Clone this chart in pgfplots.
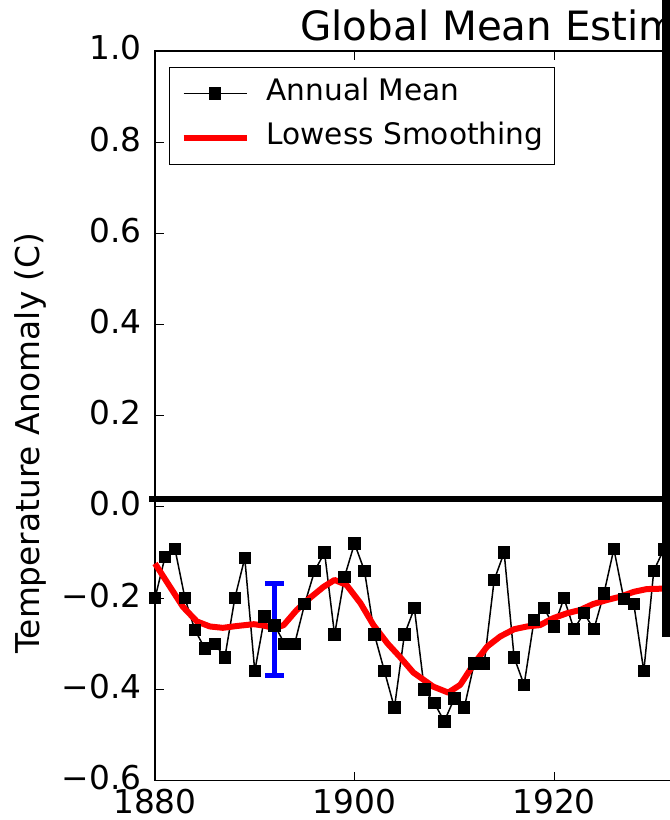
\documentclass[border=0pt]{standalone}
\usepackage{pgfplots}
\pgfplotsset{compat=1.18}
\usepackage{fontspec}
\setmainfont{DejaVu Sans}

\pgfplotstableread{
year val
1880 -0.200
1881 -0.110
1882 -0.092
1883 -0.200
1884 -0.270
1885 -0.310
1886 -0.300
1887 -0.330
1888 -0.200
1889 -0.112
1890 -0.360
1891 -0.240
1892 -0.260
1893 -0.300
1894 -0.300
1895 -0.213
1896 -0.140
1897 -0.100
1898 -0.280
1899 -0.153
1900 -0.080
1901 -0.140
1902 -0.280
1903 -0.360
1904 -0.440
1905 -0.280
1906 -0.222
1907 -0.400
1908 -0.430
1909 -0.470
1910 -0.420
1911 -0.440
1912 -0.343
1913 -0.343
1914 -0.160
1915 -0.100
1916 -0.330
1917 -0.390
1918 -0.248
1919 -0.222
1920 -0.262
1921 -0.200
1922 -0.268
1923 -0.233
1924 -0.268
1925 -0.190
1926 -0.092
1927 -0.202
1928 -0.213
1929 -0.360
1930 -0.140
1931 -0.093
1932 -0.160
}\annual

\pgfplotstableread{
year val
1880.0 -0.124
1881.5 -0.175
1882.8 -0.219
1884.2 -0.251
1885.5 -0.262
1886.8 -0.265
1888.2 -0.261
1889.9 -0.257
1890.9 -0.260
1892.0 -0.266
1892.9 -0.259
1894.2 -0.226
1895.5 -0.200
1896.9 -0.175
1898.0 -0.160
1899.2 -0.171
1900.6 -0.211
1901.9 -0.259
1903.3 -0.299
1904.6 -0.330
1905.9 -0.363
1907.9 -0.394
1909.4 -0.407
1910.6 -0.390
1912.0 -0.343
1913.3 -0.306
1914.6 -0.284
1916.0 -0.268
1917.3 -0.262
1918.6 -0.259
1919.9 -0.244
1921.3 -0.233
1922.6 -0.226
1923.9 -0.213
1925.3 -0.204
1926.6 -0.197
1928.0 -0.186
1929.3 -0.180
1931.0 -0.179
1933.0 -0.175
}\lowess

\begin{document}
\begin{tikzpicture}
\begin{axis}[
  scale only axis, width=299.25pt, height=364.8pt,
  xmin=1880, xmax=1940, ymin=-0.6, ymax=1.0,
  xtick={1880,1900,1920,1940},
  xticklabels={1880,1900,1920,{}},
  ytick={-0.6,-0.4,-0.2,0,0.2,0.4,0.6,0.8,1.0},
  yticklabels={−0.6,−0.4,−0.2,0.0,0.2,0.4,0.6,0.8,1.0},
  tick align=inside, major tick length=4.5pt,
  tick style={black, line width=0.5pt},
  axis line style={line width=0.6pt},
  ticklabel style={font=\fontsize{16.4}{19}\selectfont},
  yticklabel style={anchor=east, inner sep=0pt, xshift=-6.6pt, yshift=1.5pt},
  xticklabel style={anchor=north, inner sep=0pt, yshift=-4pt},
  clip=false,
  legend cell align=left,
  legend image code/.code={\draw[mark repeat=2,mark phase=2,#1] plot coordinates {(0pt,0pt)(15.75pt,0pt)(31.5pt,0pt)};},
  legend style={at={(0.0234,0.9786)}, anchor=north west,
    draw=black, line width=0.6pt, fill=white,
    font=\fontsize{14.8}{17}\selectfont,
    inner xsep=5.5pt, inner ysep=6.1pt,
    row sep=7.7pt, column sep=8.5pt,
    nodes={inner sep=0pt, text height=10.8pt, text depth=3.5pt}},
]
\addplot[black, line width=0.75pt, mark=square*, mark size=2.75pt, mark options={solid, fill=black}] table[x=year, y=val] {\annual};
\addlegendentry{Annual Mean}
\addplot[red, line width=3pt, line join=round] table[x=year, y=val] {\lowess};
\addlegendentry{Lowess Smoothing\hspace{5.5pt}}
% error bar
\addplot[forget plot, blue, line width=2.5pt] coordinates {(1891.96,-0.167) (1891.96,-0.370)};
\addplot[forget plot, blue, line width=2.5pt] coordinates {(1891.01,-0.167) (1892.91,-0.167)};
\addplot[forget plot, blue, line width=2.5pt] coordinates {(1891.01,-0.370) (1892.91,-0.370)};
% black annotation lines
\addplot[forget plot, black, line width=3pt] coordinates {(1879.4,0.0175) (1940,0.0175)};
\addplot[forget plot, black, line width=4pt] coordinates {(1931.2,1.13) (1931.2,-0.285)};
\node[anchor=base west, inner sep=0pt, font=\fontsize{20.2}{24}\selectfont] at (axis cs:1894.54,1.0219) {Global Mean Estimates based on Land and Ocean Data};
\node[rotate=90, anchor=base, inner sep=0pt, font=\fontsize{16.4}{19}\selectfont] at (axis cs:1868.37,0.140) {Temperature Anomaly (C)};
\coordinate (bbA) at (axis cs:1864.46,-0.6864);
\coordinate (bbB) at (axis cs:1931.53,1.1118);
\end{axis}
\pgfresetboundingbox
\useasboundingbox (bbA) rectangle (bbB);
\end{tikzpicture}
\end{document}
